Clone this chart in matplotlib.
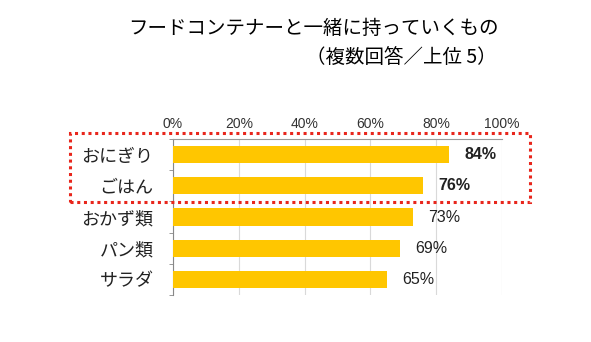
import matplotlib
matplotlib.use("Agg")
import matplotlib.pyplot as plt
from matplotlib.patches import Rectangle

plt.rcParams['font.family'] = ['Noto Sans CJK JP', 'DejaVu Sans']

categories = ["おにぎり", "ごはん", "おかず類", "パン類", "サラダ"]
values = [84, 76, 73, 69, 65]
bold_flags = [True, True, False, False, False]
xticks = [0, 20, 40, 60, 80, 100]
xtick_labels = ["0%", "20%", "40%", "60%", "80%", "100%"]
title1 = "フードコンテナーと一緒に持っていくもの"
title2 = "（複数回答／上位 5）"

fig = plt.figure(figsize=(5.91, 3.42), dpi=100)
ax = fig.add_axes([0.2927, 0.1374, 0.5567, 0.4561])

y = list(range(len(categories)))
ax.barh(y, values, height=0.55, color="#FFC600", zorder=3)
ax.set_ylim(len(categories) - 0.5, -0.5)
ax.set_xlim(0, 100)

ax.xaxis.tick_top()
ax.set_xticks(xticks)
ax.set_xticklabels(xtick_labels, fontsize=10, family=['Liberation Sans', 'DejaVu Sans'], color="#333333")
ax.tick_params(axis='x', length=0, pad=6)
ax.grid(axis='x', color="#d9d9d9", linewidth=0.8, zorder=0)

ax.set_yticks(y)
ax.set_yticklabels(categories, fontsize=13, color="#222222")
ax.set_yticks([i + 0.5 for i in range(-1, len(categories))], minor=True)
ax.tick_params(axis='y', which='major', length=0, pad=14)
ax.tick_params(axis='y', which='minor', length=3, color="#888888", direction='out')

for s in ['right', 'bottom']:
    ax.spines[s].set_visible(False)
ax.spines['top'].set_color("#999999")
ax.spines['left'].set_color("#888888")

for i, (v, b) in enumerate(zip(values, bold_flags)):
    ax.annotate(f"{v}%", (v, i), xytext=(11, 0), textcoords='offset points',
                va='center', ha='left', fontsize=11.5,
                fontweight='bold' if b else 'normal',
                family=['Liberation Sans', 'DejaVu Sans'], color="#222222")

fig.text(313 / 591, 1 - 28 / 342, title1, ha='center', va='center', fontsize=14, color="#000000")
fig.text(497 / 591, 1 - 57 / 342, title2, ha='right', va='center', fontsize=14, color="#000000")

rect = Rectangle((70 / 591, 1 - 202 / 342), (530 - 70) / 591, (202 - 133) / 342,
                 transform=fig.transFigure, fill=False, edgecolor="#E8261C",
                 linewidth=2.2, linestyle=(0, (1, 1.2)), zorder=10)
fig.patches.append(rect)

fig.savefig("out.png", dpi=100, facecolor="white")
